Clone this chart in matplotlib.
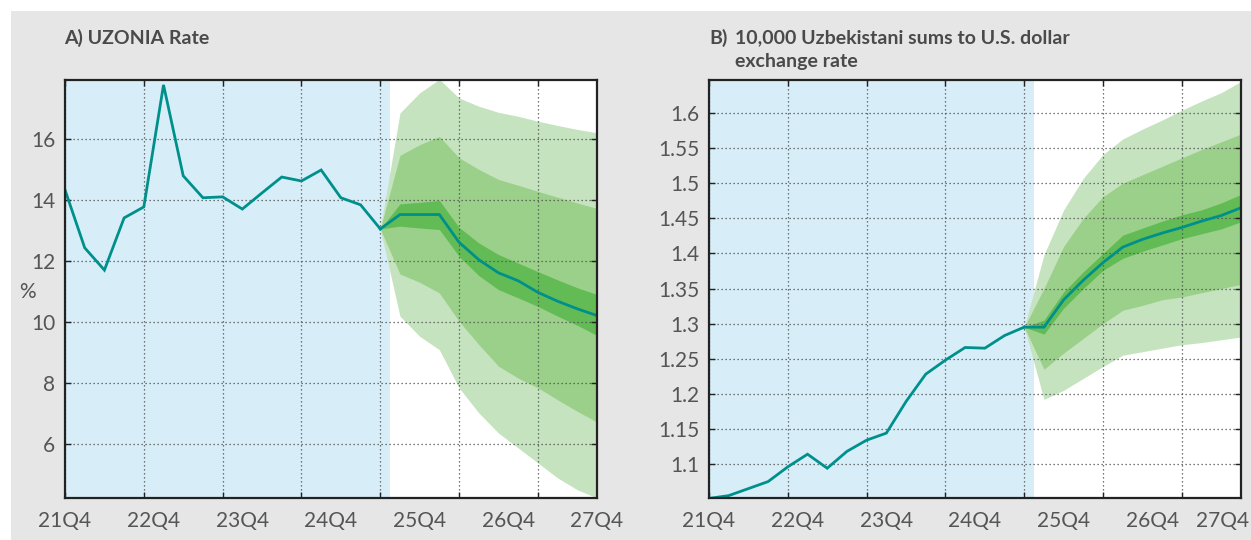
import numpy as np
import matplotlib
matplotlib.use("Agg")
import matplotlib.pyplot as plt
from matplotlib.patches import Rectangle
from matplotlib.transforms import offset_copy

plt.rcParams["font.family"] = ["Lato", "DejaVu Sans"]

# x axis labels (placed evenly across the axis, as in the original)
quarter_labels = ["21Q4", "22Q4", "23Q4", "24Q4", "25Q4", "26Q4", "27Q4"]

# Panel A: UZONIA rate, quarterly history (21Q4 onwards)
hist_a = [14.33, 12.43, 11.70, 13.41, 13.77, 17.77, 14.79, 14.07, 14.10,
          13.70, 14.23, 14.75, 14.62, 14.98, 14.07, 13.84, 13.05]
# forecast starts at last history point
fc_a = [13.05, 13.52, 13.52, 13.52, 12.61, 12.04, 11.61, 11.35, 10.97, 10.68, 10.43, 10.21]
dark_hi_a = [13.05, 13.87, 13.92, 13.98, 13.10, 12.59, 12.21, 11.93, 11.65, 11.38, 11.12, 10.90]
dark_lo_a = [13.05, 13.14, 13.08, 13.03, 12.15, 11.52, 11.06, 10.79, 10.51, 10.19, 9.89, 9.56]
med_hi_a = [13.05, 15.46, 15.81, 16.08, 15.38, 15.00, 14.67, 14.48, 14.28, 14.09, 13.90, 13.72]
med_lo_a = [13.05, 11.57, 11.30, 10.95, 10.02, 9.26, 8.55, 8.16, 7.84, 7.45, 7.07, 6.72]
light_hi_a = [13.05, 16.85, 17.51, 17.95, 17.34, 17.07, 16.87, 16.74, 16.58, 16.44, 16.31, 16.20]
light_lo_a = [13.05, 10.19, 9.53, 9.09, 7.84, 7.02, 6.36, 5.87, 5.38, 4.89, 4.50, 4.23]
yticks_a = [6, 8, 10, 12, 14, 16]
yticklabels_a = ["6", "8", "10", "12", "14", "16"]

# Panel B: 10,000 sums to USD
hist_b = [1.051, 1.055, 1.065, 1.075, 1.096, 1.114, 1.094, 1.118, 1.134,
          1.144, 1.189, 1.228, 1.248, 1.266, 1.265, 1.283, 1.295]
fc_b = [1.295, 1.295, 1.334, 1.362, 1.387, 1.409, 1.420, 1.429, 1.437, 1.446, 1.454, 1.465]
dark_hi_b = [1.295, 1.305, 1.345, 1.374, 1.400, 1.426, 1.436, 1.446, 1.455, 1.462, 1.472, 1.484]
dark_lo_b = [1.295, 1.285, 1.322, 1.350, 1.376, 1.393, 1.403, 1.412, 1.421, 1.428, 1.435, 1.445]
med_hi_b = [1.295, 1.350, 1.410, 1.450, 1.481, 1.500, 1.512, 1.524, 1.536, 1.548, 1.559, 1.570]
med_lo_b = [1.295, 1.235, 1.258, 1.279, 1.300, 1.319, 1.326, 1.334, 1.338, 1.344, 1.350, 1.356]
light_hi_b = [1.295, 1.398, 1.462, 1.507, 1.541, 1.563, 1.577, 1.590, 1.604, 1.617, 1.629, 1.645]
light_lo_b = [1.295, 1.192, 1.205, 1.222, 1.239, 1.255, 1.260, 1.265, 1.270, 1.273, 1.277, 1.281]
yticks_b = [1.1, 1.15, 1.2, 1.25, 1.3, 1.35, 1.4, 1.45, 1.5, 1.55, 1.6]
yticklabels_b = ["1.1", "1.15", "1.2", "1.25", "1.3", "1.35", "1.4", "1.45", "1.5", "1.55", "1.6"]

teal = "#00908b"
band_colors = ["#c5e3bf", "#9bd08a", "#62bb55"]
text_col = "#555555"

W, H = 1251, 540
fig = plt.figure(figsize=(W / 100, H / 100), dpi=100)
fig.patches.append(Rectangle((11 / W, 0), 1, 1 - 11 / H, transform=fig.transFigure,
                             facecolor="#e6e6e6", edgecolor="none", zorder=-10))


def draw_panel(ax, hist, fc, bands, ylim, yticks, yticklabels, last_right=False):
    n = len(hist)
    x_hist = np.arange(n)
    x_fc = np.arange(n - 1, n - 1 + len(fc))
    ax.set_facecolor("white")
    ax.axvspan(0, n - 0.5, color="#d7eef8", lw=0, zorder=0)
    for (lo, hi), col in zip(bands, band_colors):
        ax.fill_between(x_fc, lo, hi, color=col, lw=0, zorder=1)
    ax.plot(x_hist, hist, color=teal, lw=2, zorder=3, solid_joinstyle="miter")
    ax.plot(x_fc, fc, color=teal, lw=2, zorder=3, solid_joinstyle="miter")

    ax.set_xlim(0, 27)
    ax.set_ylim(*ylim)
    ax.set_xticks(np.arange(0, 25, 4))
    ax.set_xticklabels([])
    ax.set_yticks(yticks, yticklabels)

    # quarter labels spread evenly under the axis
    trans = ax.get_xaxis_transform()
    for i, (xp, lab) in enumerate(zip(np.linspace(0, 27, 7), quarter_labels)):
        if last_right and i == len(quarter_labels) - 1:
            ax.text(xp, -0.055, lab, ha="right", va="center", fontsize=15, color=text_col,
                    transform=offset_copy(trans, fig=ax.figure, x=8, units="dots"), clip_on=False)
        else:
            ax.text(xp, -0.055, lab, ha="center", va="center", fontsize=15, color=text_col,
                    transform=trans, clip_on=False)

    ax.set_axisbelow(False)
    ax.grid(True, which="major", color="#4d4d4d", linestyle=(0, (1, 2.2)), lw=0.9)
    ax.tick_params(axis="both", which="major", direction="in", top=True, right=True,
                   length=4, width=1, color="#222222", labelsize=15, labelcolor=text_col, pad=7)
    for sp in ax.spines.values():
        sp.set_linewidth(1.6)
        sp.set_color("#222222")
        sp.set_zorder(5)


ax_a = fig.add_axes([65 / W, 1 - 498 / H, 532 / W, 418 / H])
draw_panel(ax_a, hist_a, fc_a,
           [(light_lo_a, light_hi_a), (med_lo_a, med_hi_a), (dark_lo_a, dark_hi_a)],
           (4.23, 17.93), yticks_a, yticklabels_a)

ax_b = fig.add_axes([709 / W, 1 - 498 / H, 532 / W, 418 / H])
draw_panel(ax_b, hist_b, fc_b,
           [(light_lo_b, light_hi_b), (med_lo_b, med_hi_b), (dark_lo_b, dark_hi_b)],
           (1.0516, 1.647), yticks_b, yticklabels_b, last_right=True)

title_kw = dict(fontsize=14, fontweight="bold", color="#4a4a4a", va="center", ha="left")
fig.text(64 / W, 1 - 38 / H, "A) UZONIA Rate", **title_kw)
fig.text(709 / W, 1 - 38 / H, "B)", **title_kw)
fig.text(735 / W, 1 - 38 / H, "10,000 Uzbekistani sums to U.S. dollar", **title_kw)
fig.text(735 / W, 1 - 62 / H, "exchange rate", **title_kw)
fig.text(27 / W, 1 - 292 / H, "%", fontsize=15, color=text_col, va="center", ha="center")

fig.savefig("out.png", dpi=100)
